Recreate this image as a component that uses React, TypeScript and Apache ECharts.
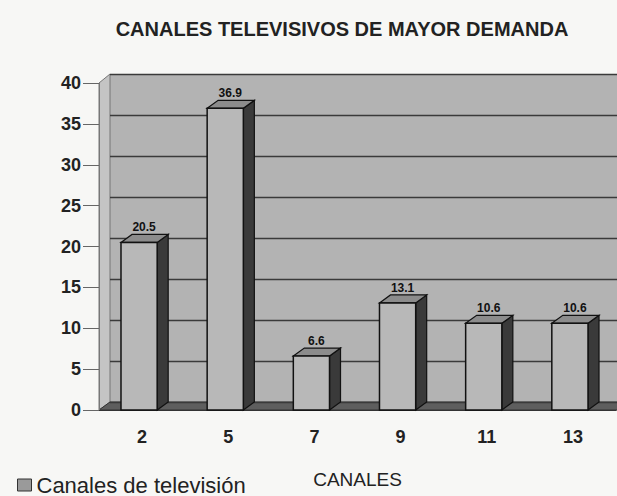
import React, { useEffect, useRef } from "react";
import * as echarts from "echarts";

const TITLE = "CANALES TELEVISIVOS DE MAYOR DEMANDA";
const SERIES_NAME = "Canales de televisión";
const X_NAME = "CANALES";
const categories = ["2", "5", "7", "9", "11", "13"];
const values = [20.5, 36.9, 6.6, 13.1, 10.6, 10.6];
const Y_MIN = 0;
const Y_MAX = 40;
const Y_STEP = 5;

const FONT = "Liberation Sans, Arial, sans-serif";
const DX = 11;
const DY = 8;

export default function App() {
  const ref = useRef<HTMLDivElement>(null);
  useEffect(() => {
    if (!ref.current) return;
    const chart = echarts.init(ref.current, undefined, { renderer: "svg" });
    const W = 617;
    const H = 496;
    const frontLeft = 99;
    const frontRight = 616;
    const frontTop = 83;
    const frontBottom = 410;

    const option: any = {
      animation: false,
      backgroundColor: "#f7f7f5",
      title: {
        text: TITLE,
        left: 337,
        top: 14,
        textAlign: "center",
        textStyle: { fontFamily: FONT, fontSize: 20, fontWeight: "bold", color: "#222" },
      },
      legend: {
        show: true,
        left: 12,
        top: 468,
        itemWidth: 14,
        itemHeight: 12,
        itemGap: 9,
        icon: "rect",
        textStyle: { fontFamily: FONT, fontSize: 22, lineHeight: 24, color: "#222" },
        data: [{ name: SERIES_NAME, itemStyle: { color: "#9a9a9a", borderColor: "#333", borderWidth: 1 } }],
      },
      graphic: [
        {
          type: "polygon",
          z: 0,
          shape: { points: [[frontLeft, frontBottom], [frontLeft, frontTop], [frontLeft + DX, frontTop - DY - 1], [frontLeft + DX, frontBottom - DY]] },
          style: { fill: "#c4c4c4", stroke: "#777", lineWidth: 1 },
        },
        {
          type: "polygon",
          z: 0,
          shape: { points: [[frontLeft, frontBottom], [frontRight + 5, frontBottom], [W + 10, frontBottom - DY], [frontLeft + DX, frontBottom - DY]] },
          style: { fill: "#5e5e5e", stroke: "#333", lineWidth: 1 },
        },
      ],
      grid: [
        { left: frontLeft, right: W - frontRight, top: frontTop, bottom: H - frontBottom, z: 3 },
        {
          left: frontLeft + DX,
          right: 0,
          top: frontTop - DY - 1,
          bottom: H - frontBottom + DY,
          show: true,
          backgroundColor: "#b3b3b3",
          borderWidth: 0,
          z: 0,
        },
      ],
      xAxis: [
        {
          type: "category",
          gridIndex: 0,
          data: categories,
          name: X_NAME,
          nameLocation: "middle",
          nameGap: 60,
          nameTextStyle: { fontFamily: FONT, fontSize: 19, color: "#222" },
          axisLine: { show: true, lineStyle: { color: "#333", width: 1 } },
          axisTick: { show: false },
          axisLabel: { fontFamily: FONT, fontSize: 18, fontWeight: "bold", color: "#222", margin: 18 },
          splitLine: { show: false },
        },
        {
          type: "category",
          gridIndex: 1,
          data: categories,
          show: false,
        },
      ],
      yAxis: [
        {
          type: "value",
          gridIndex: 0,
          min: Y_MIN,
          max: Y_MAX,
          interval: Y_STEP,
          axisLine: { show: true, lineStyle: { color: "#777" } },
          axisTick: { show: true, length: 16, lineStyle: { color: "#666" } },
          axisLabel: { fontFamily: FONT, fontSize: 18, fontWeight: "bold", color: "#222", margin: 18 },
          splitLine: { show: false },
        },
        {
          type: "value",
          gridIndex: 1,
          min: Y_MIN,
          max: Y_MAX,
          interval: Y_STEP,
          axisLine: { show: false },
          axisTick: { show: false },
          axisLabel: { show: false },
          splitLine: { show: true, lineStyle: { color: "#3a3a3a", width: 1.3 } },
        },
      ],
      series: [
        {
          name: SERIES_NAME,
          type: "custom",
          xAxisIndex: 0,
          yAxisIndex: 0,
          z: 5,
          itemStyle: { color: "#9a9a9a" },
          data: values.map((v, i) => [i, v]),
          renderItem: (params: any, api: any) => {
            const i = api.value(0);
            const v = api.value(1);
            const top = api.coord([i, v]);
            const base = api.coord([i, 0]);
            const band = api.size([1, 0])[0];
            const w = band * 0.42;
            const cx = top[0] - 3;
            const x0 = cx - w / 2;
            const x1 = cx + w / 2;
            const yt = top[1];
            const yb = base[1];
            return {
              type: "group",
              children: [
                {
                  type: "polygon",
                  shape: { points: [[x1, yt], [x1 + DX, yt - DY], [x1 + DX, yb - DY], [x1, yb]] },
                  style: { fill: "#3a3a3a", stroke: "#111", lineWidth: 1.2 },
                },
                {
                  type: "polygon",
                  shape: { points: [[x0, yt], [x0 + DX, yt - DY], [x1 + DX, yt - DY], [x1, yt]] },
                  style: { fill: "#8c8c8c", stroke: "#111", lineWidth: 1.2 },
                },
                {
                  type: "rect",
                  shape: { x: x0, y: yt, width: w, height: yb - yt },
                  style: { fill: "#b8b8b8", stroke: "#111", lineWidth: 1.5 },
                },
                {
                  type: "text",
                  style: {
                    x: top[0] + 2,
                    y: yt - 15,
                    text: String(v),
                    fill: "#111",
                    font: "bold 12px " + FONT,
                    align: "center",
                    verticalAlign: "middle",
                  },
                },
              ],
            };
          },
        },
      ],
    };
    chart.setOption(option);
    return () => chart.dispose();
  }, []);
  return <div ref={ref} style={{ width: 617, height: 496, position: "absolute", left: 0, top: 0 }} />;
}
